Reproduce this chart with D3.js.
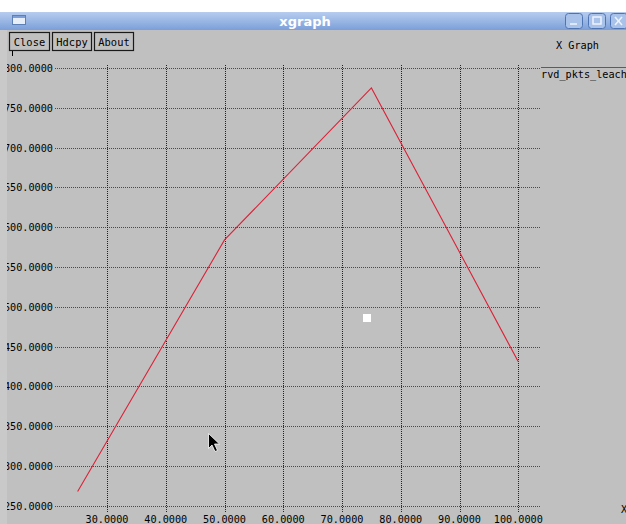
<!DOCTYPE html>
<html>
<head>
<meta charset="utf-8">
<script src="https://cdn.jsdelivr.net/npm/d3@7"></script>
<style>
  html, body { margin: 0; padding: 0; background: #ffffff; }
  svg { display: block; }
</style>
</head>
<body>
<div id="chart"></div>
<script>
// Series: received packets (LEACH) against x
const xValues = [25, 50, 75, 100];
const rvdPkts = [268, 584, 775, 431];
const seriesName = "rvd_pkts_leach";

// Axis ticks
const xTicks = [30, 40, 50, 60, 70, 80, 90, 100];
const yTicks = [250, 300, 350, 400, 450, 500, 550, 600, 650, 700, 750, 800];

const buttonLabels = ["Close", "Hdcpy", "About"];

const W = 626, H = 524;
const MONO = "'DejaVu Sans Mono', 'Liberation Mono', monospace";

const svg = d3.select("#chart").append("svg")
  .attr("width", W).attr("height", H);

// Window title bar
const grad = svg.append("defs").append("linearGradient")
  .attr("id", "tbar").attr("x1", 0).attr("y1", 0).attr("x2", 0).attr("y2", 1);
grad.append("stop").attr("offset", "0%").attr("stop-color", "#b6cdef");
grad.append("stop").attr("offset", "100%").attr("stop-color", "#7c9fd9");

svg.append("rect").attr("x", 0).attr("y", 0).attr("width", W).attr("height", 12).attr("fill", "#ffffff");
svg.append("rect").attr("x", 0).attr("y", 12).attr("width", W).attr("height", 18).attr("fill", "url(#tbar)");

// window menu icon
svg.append("rect").attr("x", 12.5).attr("y", 15.5).attr("width", 13).attr("height", 9)
  .attr("fill", "#e8eef8").attr("stroke", "#5d7fb8");
svg.append("rect").attr("x", 13).attr("y", 16).attr("width", 12).attr("height", 2).attr("fill", "#7c9fd9");

svg.append("text").attr("x", 305).attr("y", 26)
  .attr("text-anchor", "middle")
  .attr("font-family", "'DejaVu Sans', Verdana, sans-serif")
  .attr("font-weight", "bold").attr("font-size", 13)
  .attr("fill", "#ffffff").text("xgraph");

// minimise / maximise / close
const wbx = [565, 588, 610];
wbx.forEach((x, i) => {
  svg.append("rect").attr("x", x + 0.5).attr("y", 13.5).attr("width", 17).attr("height", 15).attr("rx", 3)
    .attr("fill", "#a9c2ea").attr("stroke", "#4f74b3");
  const g = svg.append("g").attr("stroke", "#eef3fb").attr("fill", "none").attr("stroke-width", 1.5);
  if (i === 0) g.append("line").attr("x1", x + 5).attr("x2", x + 12).attr("y1", 24).attr("y2", 24);
  if (i === 1) g.append("rect").attr("x", x + 5).attr("y", 17).attr("width", 8).attr("height", 7);
  if (i === 2) {
    g.append("line").attr("x1", x + 5).attr("y1", 17).attr("x2", x + 12).attr("y2", 25);
    g.append("line").attr("x1", x + 12).attr("y1", 17).attr("x2", x + 5).attr("y2", 25);
  }
});

// Window body
svg.append("rect").attr("x", 0).attr("y", 30).attr("width", W).attr("height", H - 30).attr("fill", "#c0c0c0");

// Scales
const x = d3.scaleLinear().domain([30, 100]).range([107, 518.3]);
const y = d3.scaleLinear().domain([250, 800]).range([505.8, 68]);

// Grid extents
const gx0 = 55, gx1 = 541, gy0 = 65, gy1 = 512;

const grid = svg.append("g")
  .attr("stroke-dasharray", "1,1").attr("stroke-width", 1).attr("shape-rendering", "crispEdges");

grid.selectAll("line.h").data(yTicks).join("line")
  .attr("class", "h")
  .attr("x1", gx0).attr("x2", gx1)
  .attr("y1", d => Math.round(y(d)) + 0.5).attr("y2", d => Math.round(y(d)) + 0.5)
  .attr("stroke", "#4a4a4a");

grid.selectAll("line.v").data(xTicks).join("line")
  .attr("class", "v")
  .attr("y1", gy0).attr("y2", gy1)
  .attr("x1", d => Math.round(x(d)) + 0.5).attr("x2", d => Math.round(x(d)) + 0.5)
  .attr("stroke", "#222222");

// Tick labels
const fmt = d3.format(".4f");
svg.append("g").selectAll("text").data(yTicks).join("text")
  .attr("x", 53).attr("y", d => y(d) + 4)
  .attr("text-anchor", "end")
  .attr("font-family", MONO).attr("font-size", 10.2).attr("fill", "#000")
  .text(d => fmt(d));

svg.append("g").selectAll("text").data(xTicks).join("text")
  .attr("x", d => x(d)).attr("y", 523)
  .attr("text-anchor", "middle")
  .attr("font-family", MONO).attr("font-size", 10.2).attr("fill", "#000")
  .text(d => fmt(d));

// left window border clips the leading digit of the y labels
svg.append("rect").attr("x", 0).attr("y", 30).attr("width", 7).attr("height", H - 30).attr("fill", "#c9c9c9");

// y unit marker
svg.append("line").attr("x1", 12.5).attr("x2", 12.5).attr("y1", 50).attr("y2", 56).attr("stroke", "#000");

// x unit label, partially off the window edge
svg.append("text").attr("x", 621).attr("y", 513)
  .attr("font-family", MONO).attr("font-size", 10.2).attr("fill", "#000").text("X");

// Buttons
const bx = [9, 52, 94], bw = [40, 39, 39];
buttonLabels.forEach((t, i) => {
  svg.append("rect").attr("x", bx[i] + 0.5).attr("y", 32.5).attr("width", bw[i]).attr("height", 18)
    .attr("fill", "#c0c0c0").attr("stroke", "#1a1a1a").attr("stroke-width", 1.2);
  svg.append("text").attr("x", bx[i] + bw[i] / 2 + 0.5).attr("y", 45.5)
    .attr("text-anchor", "middle")
    .attr("font-family", MONO).attr("font-size", 10.4).attr("fill", "#000").text(t);
});

svg.append("text").attr("x", 556).attr("y", 48.5)
  .attr("font-family", MONO).attr("font-size", 10.2).attr("fill", "#000").text("X Graph");

// Data line
const pts = xValues.map((d, i) => [d, rvdPkts[i]]);
svg.append("path")
  .attr("d", d3.line().x(d => x(d[0])).y(d => y(d[1]))(pts))
  .attr("fill", "none").attr("stroke", "#dc2238").attr("stroke-width", 1.1);

// Legend
svg.append("line").attr("x1", 541).attr("x2", W).attr("y1", 67.5).attr("y2", 67.5)
  .attr("stroke", "#dc2238").attr("stroke-width", 1.2);
svg.append("text").attr("x", 541).attr("y", 78)
  .attr("font-family", MONO).attr("font-size", 10.2).attr("fill", "#000").text(seriesName);

// Small white marker inside the plot
svg.append("rect").attr("x", 363).attr("y", 314).attr("width", 8).attr("height", 8).attr("fill", "#ffffff");

// Mouse pointer
svg.append("path")
  .attr("transform", "translate(208.5,433.5)")
  .attr("d", "M0,0 L0,15 L3.5,11.5 L6.5,18 L9,17 L6,10.5 L11,10.5 Z")
  .attr("fill", "#000").attr("stroke", "#ffffff").attr("stroke-width", 0.8);
</script>
</body>
</html>
